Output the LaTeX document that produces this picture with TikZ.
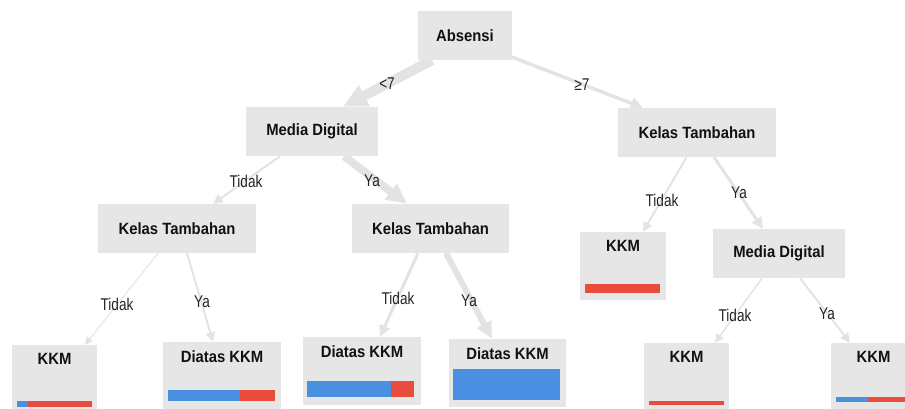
\documentclass[tikz,border=0pt]{standalone}
\usepackage{fontspec}
\setmainfont{Liberation Sans}
\newfontfamily\boxfont{Liberation Sans}[FakeStretch=0.91]
\newfontfamily\lblfont{Liberation Sans}[FakeStretch=0.80]
\usetikzlibrary{arrows.meta,backgrounds}
\definecolor{boxc}{HTML}{E6E6E6}
\definecolor{edgec}{HTML}{E3E3E3}
\definecolor{bluec}{HTML}{4A90E2}
\definecolor{redc}{HTML}{E84C3D}
\definecolor{txtc}{HTML}{111111}
\definecolor{lblc}{HTML}{222226}
\tikzset{
  inner/.style={fill=boxc, draw=none, minimum height=49pt, inner sep=0pt,
    font=\boxfont\fontsize{16.3}{19}\selectfont\bfseries, text=txtc},
  leafbox/.style={fill=boxc, draw=none, minimum height=68pt, inner sep=0pt},
  leaftext/.style={font=\boxfont\fontsize{16.3}{19}\selectfont\bfseries, text=txtc, inner sep=0pt},
  elabel/.style={font=\lblfont\fontsize{17}{19}\selectfont, text=lblc, inner sep=0pt},
  edge/.style={line width=#1, draw=edgec, -{Triangle[length=6pt 1.8, width=6pt 1.6]}},
}
\begin{document}
\begin{tikzpicture}[x=1pt,y=-1pt]
\useasboundingbox (0,0) rectangle (905,409);
% inner nodes
\node[inner, minimum width=94pt]  (abs)  at (465,35.5)   {Absensi};
\node[inner, minimum width=132pt] (mdl)  at (312,131.5)  {Media Digital};
\node[inner, minimum width=158pt] (ktr)  at (697,132.5)  {Kelas Tambahan};
\node[inner, minimum width=158pt] (ktll) at (177,228.5)  {Kelas Tambahan};
\node[inner, minimum width=157pt] (ktlr) at (430.5,228.5){Kelas Tambahan};
\node[inner, minimum width=132pt] (mdr)  at (779,253.5)  {Media Digital};
% leaves
\node[leafbox, minimum width=85pt]  (l1) at (54.5,379) {};
\node[leafbox, minimum width=118pt] (l2) at (222,376)  {};
\node[leafbox, minimum width=118pt] (l3) at (362,371)  {};
\node[leafbox, minimum width=117pt] (l4) at (507.5,373){};
\node[leafbox, minimum width=86pt]  (r1) at (623,266)  {};
\node[leafbox, minimum width=85pt]  (r2) at (686.5,377){};
\node[leafbox, minimum width=85pt]  (r3) at (873.5,377){};
\node[leaftext] (l1t) at ([yshift=-14.5pt]l1.north) {KKM};
\node[leaftext] (l2t) at ([yshift=-14.5pt]l2.north) {Diatas KKM};
\node[leaftext] (l3t) at ([yshift=-14.5pt]l3.north) {Diatas KKM};
\node[leaftext] (l4t) at ([yshift=-14.5pt]l4.north) {Diatas KKM};
\node[leaftext] (r1t) at ([yshift=-14.5pt]r1.north) {KKM};
\node[leaftext] (r2t) at ([yshift=-14.5pt]r2.north) {KKM};
\node[leaftext] (r3t) at ([yshift=-14.5pt]r3.north) {KKM};
% bars
\fill[bluec] (17,401) rectangle (28,407);
\fill[redc]  (28,401) rectangle (92,407);
\fill[bluec] (168,390) rectangle (240,401);
\fill[redc]  (240,390) rectangle (275,401);
\fill[bluec] (307,381) rectangle (391,397);
\fill[redc]  (391,381) rectangle (414,397);
\fill[bluec] (453,369) rectangle (560,400);
\fill[redc]  (585,284) rectangle (660,293);
\fill[redc]  (649,401) rectangle (724,405);
\fill[bluec] (836,397) rectangle (868,402);
\fill[redc]  (868,397) rectangle (911,402);
% edges
\begin{scope}[on background layer]
\draw[edge=10pt] ([xshift=-33pt]abs.south) -- ([xshift=31pt]mdl.north);
\draw[edge=3.5pt]  ([xshift=-5pt,yshift=5pt]abs.south east) -- ([xshift=-54pt]ktr.north);
\draw[edge=2pt]  ([xshift=-32pt]mdl.south) -- ([xshift=36pt]ktll.north);
\draw[edge=8pt]  ([xshift=32pt]mdl.south) -- ([xshift=-23.5pt]ktlr.north);
\draw[edge=1pt]  ([xshift=-19pt]ktll.south) -- ([xshift=30.5pt]l1.north);
\draw[edge=2pt]  ([xshift=10pt]ktll.south) -- ([xshift=-9pt]l2.north);
\draw[edge=3pt]  ([xshift=-12.5pt]ktlr.south) -- ([xshift=18pt]l3.north);
\draw[edge=6pt]  ([xshift=15.5pt]ktlr.south) -- ([xshift=-15.5pt]l4.north);
\draw[edge=2pt]  ([xshift=-10.5pt]ktr.south) -- ([xshift=20pt]r1.north);
\draw[edge=3pt]  ([xshift=17pt]ktr.south) -- ([xshift=-16pt]mdr.north);
\draw[edge=1.5pt]([xshift=-17pt]mdr.south) -- ([xshift=28.5pt]r2.north);
\draw[edge=2pt]  ([xshift=21pt]mdr.south) -- ([xshift=-23.5pt]r3.north);
\end{scope}
% edge labels
\node[elabel] (e1) at (387,84)  {<7};
\node[elabel] (e2) at (582,85)  {≥7};
\node[elabel] (e3) at (246,181) {Tidak};
\node[elabel] (e4) at (372,181) {Ya};
\node[elabel] (e5) at (117,304) {Tidak};
\node[elabel] (e6) at (202,302) {Ya};
\node[elabel] (e7) at (398,298) {Tidak};
\node[elabel] (e8) at (469,301) {Ya};
\node[elabel] (e9) at (662,200) {Tidak};
\node[elabel] (e10) at (739,193) {Ya};
\node[elabel] (e11) at (735,315) {Tidak};
\node[elabel] (e12) at (827,314) {Ya};
\end{tikzpicture}
\end{document}
